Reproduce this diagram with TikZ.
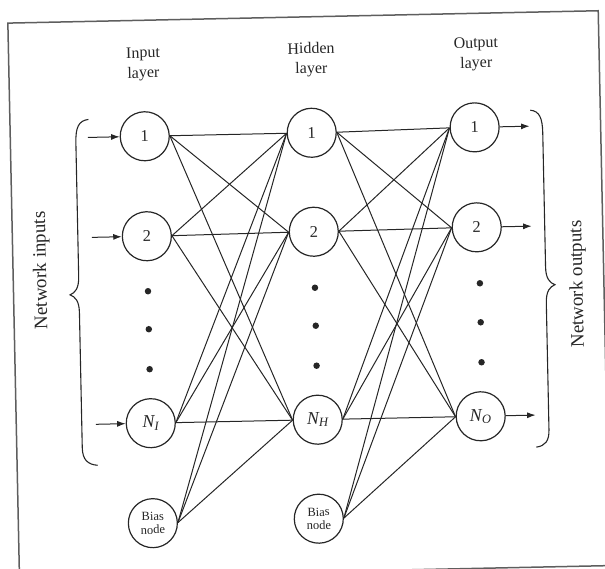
\documentclass[tikz,border=0pt]{standalone}
\usepackage{fontspec}
\setmainfont{Liberation Serif}
\usetikzlibrary{arrows.meta}
\definecolor{ink}{HTML}{262626}
\definecolor{framegray}{HTML}{5E5E5E}
\begin{document}
\begin{tikzpicture}[x=1pt,y=-1pt,
  neuron/.style={circle,draw=ink,line width=1.2pt,minimum size=49pt,inner sep=0pt,
    text=ink,font=\fontsize{16.5}{18}\selectfont},
  bigsub/.style={font=\fontsize{18}{20}\selectfont},
  biasnode/.style={neuron,align=center,font=\fontsize{12.5}{13.5}\selectfont},
  link/.style={draw=ink,line width=1pt},
  feed/.style={draw=ink,line width=1pt,-{Latex[length=8.5pt,width=6pt]}},
  dotmark/.style={circle,fill=ink,inner sep=0pt,minimum size=6.5pt},
  layertitle/.style={align=center,text=ink,font=\fontsize{16}{20}\selectfont},
  sidelabel/.style={rotate=90,text=ink,font=\fontsize{19}{22}\selectfont},
  curly/.style={draw=ink,line width=1.1pt}]
\useasboundingbox (0,0) rectangle (605,569);
\begin{scope}[rotate around={1.2:(302,290)},transform shape]
  % outer frame
  \draw[framegray,line width=1.5pt] (13.5,17) rectangle (604,572);

  % layer titles
  \node[layertitle] (tin)  at (148,61) {Input\\layer};
  \node[layertitle] (thid) at (316,60) {Hidden\\layer};
  \node[layertitle] (tout) at (481,58) {Output\\layer};

  % input layer
  \node[neuron] (i1) at (148,133) {1};
  \node[neuron] (i2) at (148,233) {2};
  \node[neuron,bigsub] (iN) at (148,420) {\itshape N\textsubscript{I}};
  \node[biasnode] (ib) at (148,520) {Bias\\node};
  \node[dotmark] (id1) at (148,288) {};
  \node[dotmark] (id2) at (148,326) {};
  \node[dotmark] (id3) at (148,366) {};

  % hidden layer
  \node[neuron] (h1) at (315,133) {1};
  \node[neuron] (h2) at (315,232) {2};
  \node[neuron,bigsub] (hN) at (315,420) {\itshape N\textsubscript{H}};
  \node[biasnode] (hb) at (314,519) {Bias\\node};
  \node[dotmark] (hd1) at (315,288) {};
  \node[dotmark] (hd2) at (315,326) {};
  \node[dotmark] (hd3) at (315,366) {};

  % output layer
  \node[neuron] (o1) at (478,131) {1};
  \node[neuron] (o2) at (478,231) {2};
  \node[neuron,bigsub] (oN) at (478,420) {\itshape N\textsubscript{O}};
  \node[dotmark] (od1) at (480,287) {};
  \node[dotmark] (od2) at (480,326) {};
  \node[dotmark] (od3) at (480,366) {};

  % weighted connections
  \foreach \a in {i1,i2,iN,ib}
    \foreach \b in {h1,h2,hN}
      \draw[link] (\a.east) -- (\b.west);
  \foreach \a in {h1,h2,hN,hb}
    \foreach \b in {o1,o2,oN}
      \draw[link] (\a.east) -- (\b.west);

  % network inputs and outputs
  \coordinate (x1) at (91,133);
  \coordinate (x2) at (93,233);
  \coordinate (xN) at (93,420);
  \coordinate (y1) at (533,131);
  \coordinate (y2) at (533,231);
  \coordinate (yN) at (533,420);
  \draw[feed] (x1) -- (i1);
  \draw[feed] (x2) -- (i2);
  \draw[feed] (xN) -- (iN);
  \draw[feed] (o1) -- (y1);
  \draw[feed] (o2) -- (y2);
  \draw[feed] (oN) -- (yN);

  % braces
  \draw[curly] (92,115) .. controls (82,116) and (79,123) .. (79,138)
    -- (79,272) .. controls (79,284) and (75,288) .. (70,290)
    .. controls (75,292) and (79,296) .. (79,308)
    -- (79,443) .. controls (79,455) and (84,460) .. (94,461);
  \draw[curly] (534,115) .. controls (543,116) and (546,123) .. (546,138)
    -- (546,272) .. controls (546,284) and (550,288) .. (555,290)
    .. controls (550,292) and (546,296) .. (546,308)
    -- (546,435) .. controls (546,446) and (542,451) .. (533,452);

  \node[sidelabel] (netin)  at (42,265) {Network inputs};
  \node[sidelabel] (netout) at (578,290) {Network outputs};
\end{scope}
\end{tikzpicture}
\end{document}
